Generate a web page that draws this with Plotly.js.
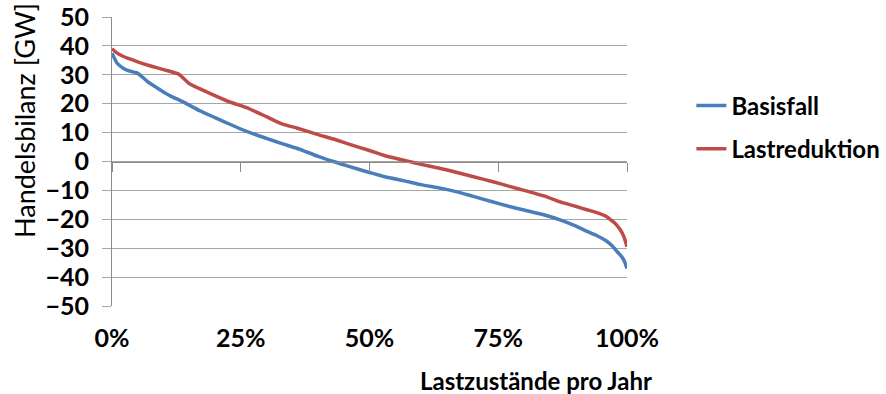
<!DOCTYPE html>
<html>
<head>
<meta charset="utf-8">
<script src="https://cdn.plot.ly/plotly-3.0.1.min.js"></script>
<style>html,body{margin:0;padding:0;background:#fff;}#chart{width:886px;height:394px;}</style>
</head>
<body>
<div id="chart"></div>
<script>
// Share of load states per year (fraction 0..1)
const pct = [0, 0.01, 0.02, 0.03, 0.05, 0.07, 0.09, 0.11, 0.12, 0.13, 0.15, 0.17, 0.20, 0.23, 0.26, 0.30, 0.33, 0.36, 0.40, 0.43, 0.46, 0.50, 0.53, 0.57, 0.60, 0.64, 0.67, 0.70, 0.74, 0.77, 0.80, 0.84, 0.87, 0.90, 0.92, 0.94, 0.96, 0.97, 0.98, 0.99, 0.995, 1.0];
const basisfall = [37.5, 34, 32.5, 31.5, 30.5, 27.5, 25.2, 23, 22.1, 21.3, 19.5, 17.6, 15.2, 12.8, 10.5, 8, 6.2, 4.5, 1.8, 0, -1.7, -3.8, -5.3, -6.8, -8, -9.3, -10.5, -12, -14, -15.5, -16.8, -18.5, -20.2, -22.3, -24, -25.5, -27.5, -29, -31, -33, -34.5, -37];
const lastreduktion = [39, 37.5, 36.5, 35.8, 34.5, 33.3, 32.3, 31.3, 30.8, 30.2, 27, 25.2, 22.8, 20.5, 18.7, 15.5, 13, 11.5, 9.3, 7.8, 6, 3.8, 2, 0.3, -1, -2.5, -3.8, -5.2, -7, -8.5, -10, -12, -14, -15.5, -16.6, -17.6, -19, -20.4, -22, -24.5, -26.5, -29.5];
const seriesNames = ['Basisfall', 'Lastreduktion'];
const xTickVals = [0, 0.25, 0.5, 0.75, 1];
const xTickText = ['0%', '25%', '50%', '75%', '100%'];
const yTickVals = [50, 40, 30, 20, 10, 0, -10, -20, -30, -40, -50];
const xTitle = 'Lastzustände pro Jahr';
const yTitle = 'Handelsbilanz [GW]';

const gridCol = '#a6a6a6';
const axisCol = '#8c8c8c';
const bold = {family: 'Lato', size: 25, color: '#000', weight: 700};

const traces = [
  {x: pct, y: basisfall, name: seriesNames[0], type: 'scatter', mode: 'lines',
   line: {color: '#4a7ebb', width: 3.5, shape: 'spline', smoothing: 0.5}, legendgroup: 'a'},
  {x: pct, y: lastreduktion, name: seriesNames[1], type: 'scatter', mode: 'lines',
   line: {color: '#be4b48', width: 3.5, shape: 'spline', smoothing: 0.5}, legendgroup: 'b'},
  {x: [], y: [], xaxis: 'x2', showlegend: false, hoverinfo: 'skip', type: 'scatter', mode: 'lines'}
];

const layout = {
  width: 886, height: 394,
  margin: {l: 112, r: 259, t: 17, b: 88, autoexpand: false},
  paper_bgcolor: '#fff', plot_bgcolor: '#fff',
  showlegend: true,
  font: {family: 'Lato', color: '#000'},
  xaxis: {
    range: [0, 1], tickvals: xTickVals, ticktext: xTickText,
    showgrid: false, zeroline: false, showline: false, ticks: '',
    tickfont: bold, ticklabelstandoff: 15, fixedrange: true, automargin: false
  },
  xaxis2: {
    range: [0, 1], overlaying: 'x', anchor: 'free', position: 0.5,
    tickvals: xTickVals, showticklabels: false, ticks: 'outside', ticklen: 9,
    tickcolor: axisCol, tickwidth: 1, showline: true, linecolor: axisCol, linewidth: 1,
    showgrid: false, zeroline: false
  },
  yaxis: {
    range: [-50, 50], tickvals: yTickVals, showgrid: true, gridcolor: gridCol, gridwidth: 1,
    zeroline: false, showline: true, linecolor: axisCol, linewidth: 1,
    ticks: 'outside', ticklen: 9, tickcolor: gridCol, tickfont: bold,
    ticklabelstandoff: 8, automargin: false
  },
  legend: {
    x: 1.125, xanchor: 'left', y: 0.77, yanchor: 'top',
    font: {family: 'Lato', size: 24, color: '#000', weight: 700},
    traceorder: 'grouped', tracegroupgap: 9,
    bgcolor: 'rgba(0,0,0,0)'
  },
  annotations: [
    {text: xTitle, xref: 'paper', yref: 'paper', x: (536 - 112) / 515, y: (306 - 380) / 289,
     xanchor: 'center', yanchor: 'middle', showarrow: false,
     font: {family: 'Lato', size: 24, color: '#000', weight: 700}},
    {text: yTitle, xref: 'paper', yref: 'paper', x: (25 - 112) / 515, y: (306 - 121) / 289,
     xanchor: 'center', yanchor: 'middle', textangle: -90, showarrow: false,
     font: {family: 'Lato', size: 27, color: '#000'}}
  ]
};

Plotly.newPlot('chart', traces, layout, {displayModeBar: false, staticPlot: true});
</script>
</body>
</html>
